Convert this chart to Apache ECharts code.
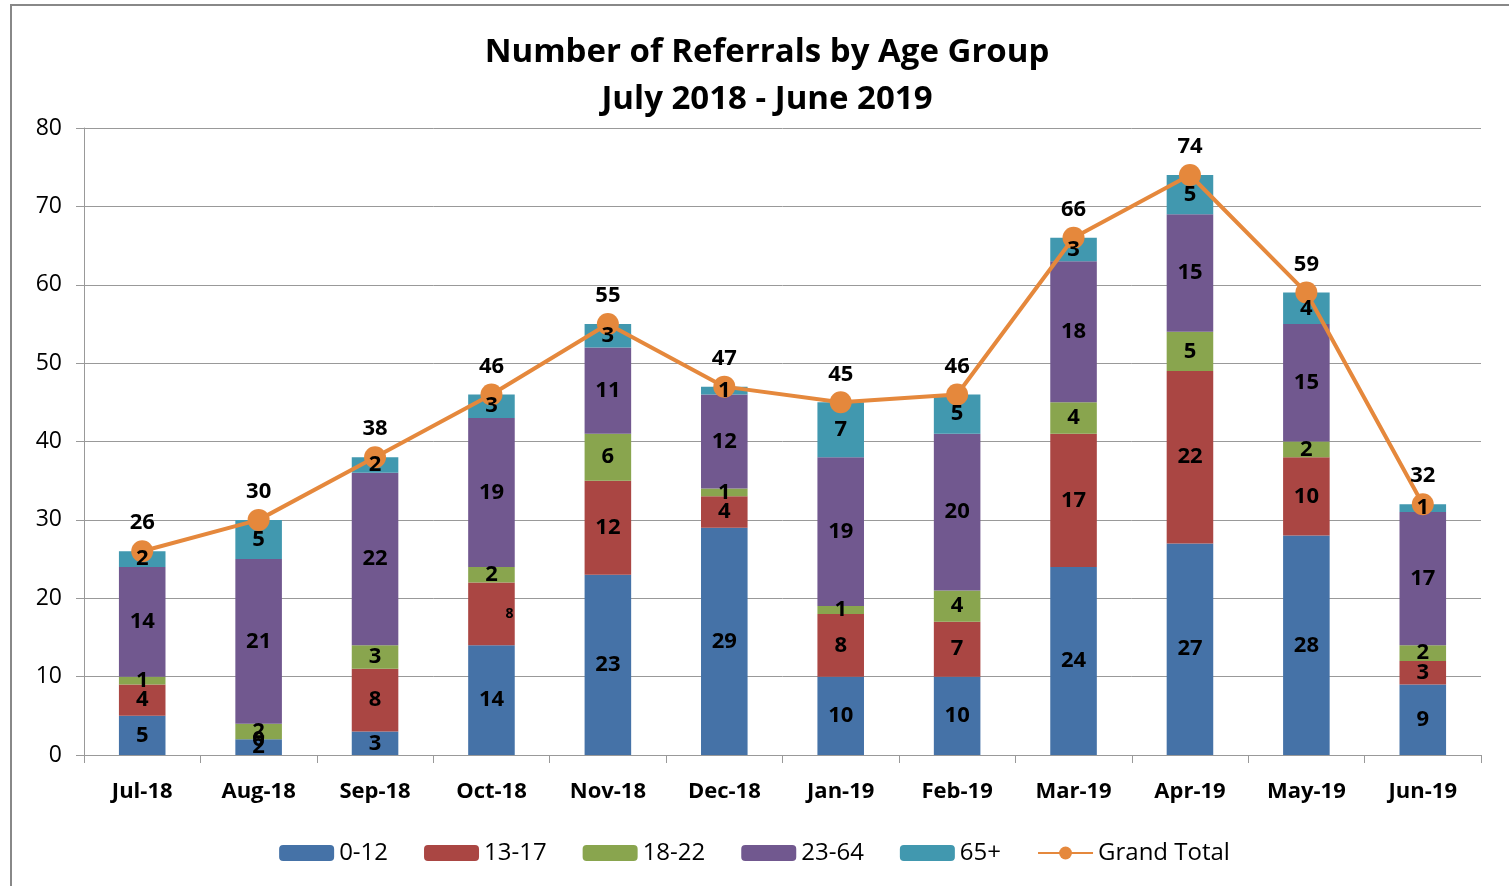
<!DOCTYPE html>
<html>
<head>
<meta charset="utf-8">
<script src="https://cdn.jsdelivr.net/npm/echarts@6/dist/echarts.min.js"></script>
<style>
html,body{margin:0;padding:0;background:#fff;}
#chart{width:1509px;height:886px;}
</style>
</head>
<body>
<div id="chart"></div>
<script>
var months = ['Jul-18','Aug-18','Sep-18','Oct-18','Nov-18','Dec-18','Jan-19','Feb-19','Mar-19','Apr-19','May-19','Jun-19'];
var age0to12 = [5, 2, 3, 14, 23, 29, 10, 10, 24, 27, 28, 9];
var age13to17 = [4, 0, 8, 8, 12, 4, 8, 7, 17, 22, 10, 3];
var age18to22 = [1, 2, 3, 2, 6, 1, 1, 4, 4, 5, 2, 2];
var age23to64 = [14, 21, 22, 19, 11, 12, 19, 20, 18, 15, 15, 17];
var age65plus = [2, 5, 2, 3, 3, 1, 7, 5, 3, 5, 4, 1];
var grandTotal = [26, 30, 38, 46, 55, 47, 45, 46, 66, 74, 59, 32];

var font = 'Open Sans';
var myChart = echarts.init(document.getElementById('chart'));

var groups = [
    {name: '0-12', data: age0to12, color: '#4572A7'},
    {name: '13-17', data: age13to17, color: '#AA4643'},
    {name: '18-22', data: age18to22, color: '#89A54E'},
    {name: '23-64', data: age23to64, color: '#71588F'},
    {name: '65+', data: age65plus, color: '#4198AF'}
];

var series = [];
// coloured stacked bars, no labels
groups.forEach(function (g) {
    series.push({
        name: g.name,
        type: 'bar',
        stack: 'total',
        barWidth: '40%',
        itemStyle: {color: g.color},
        data: g.data
    });
});

series.push({
    name: 'Grand Total',
    type: 'line',
    data: grandTotal,
    symbol: 'circle',
    symbolSize: 22,
    z: 3,
    itemStyle: {color: '#E5883C'},
    lineStyle: {color: '#E5883C', width: 4},
    label: {
        show: true,
        position: 'top',
        distance: 6,
        color: '#000',
        fontFamily: font,
        fontWeight: 'bold',
        fontSize: 22
    }
});

// transparent copy of the stack on top, just to carry the labels over the line
groups.forEach(function (g, k) {
    var d = g.data.map(function (v, i) {
        // Oct-18 13-17 label is drawn small and off to the right in the original
        if (k === 1 && i === 3) {
            return {value: v, label: {fontSize: 14, offset: [18, 0]}};
        }
        return v;
    });
    series.push({
        name: 'lbl ' + g.name,
        type: 'bar',
        stack: 'labels',
        barWidth: '40%',
        barGap: '-100%',
        z: 10,
        silent: true,
        itemStyle: {color: 'rgba(0,0,0,0)'},
        label: {
            show: true,
            position: 'inside',
            color: '#000',
            fontFamily: font,
            fontWeight: 'bold',
            fontSize: 22
        },
        data: d
    });
});

var option = {
    animation: false,
    title: {
        text: 'Number of Referrals by Age Group\nJuly 2018 - June 2019',
        left: 762,
        textAlign: 'center',
        top: 24,
        textStyle: {
            fontFamily: font,
            fontWeight: 'bold',
            fontSize: 33,
            lineHeight: 47,
            color: '#000'
        }
    },
    graphic: [{
        type: 'rect',
        shape: {x: 11, y: 5, width: 1520, height: 900},
        style: {fill: 'none', stroke: '#888', lineWidth: 2},
        silent: true
    }],
    legend: {
        bottom: 16,
        left: 'center',
        itemWidth: 55,
        itemHeight: 16,
        itemGap: 36,
        textStyle: {fontFamily: font, fontSize: 24, color: '#000'},
        data: ['0-12', '13-17', '18-22', '23-64', '65+', 'Grand Total']
    },
    grid: {left: 84, right: 28, top: 128, bottom: 131},
    xAxis: {
        type: 'category',
        data: months,
        axisLine: {lineStyle: {color: '#999'}},
        axisTick: {show: true, length: 8, lineStyle: {color: '#999'}},
        axisLabel: {
            color: '#000',
            fontFamily: font,
            fontWeight: 'bold',
            fontSize: 22,
            margin: 26
        }
    },
    yAxis: {
        type: 'value',
        min: 0,
        max: 80,
        interval: 10,
        axisLine: {show: true, lineStyle: {color: '#999'}},
        axisTick: {show: true, length: 8, lineStyle: {color: '#999'}},
        splitLine: {lineStyle: {color: '#999'}},
        axisLabel: {
            color: '#000',
            fontFamily: font,
            fontSize: 23,
            margin: 22
        }
    },
    series: series
};

myChart.setOption(option);
</script>
</body>
</html>
